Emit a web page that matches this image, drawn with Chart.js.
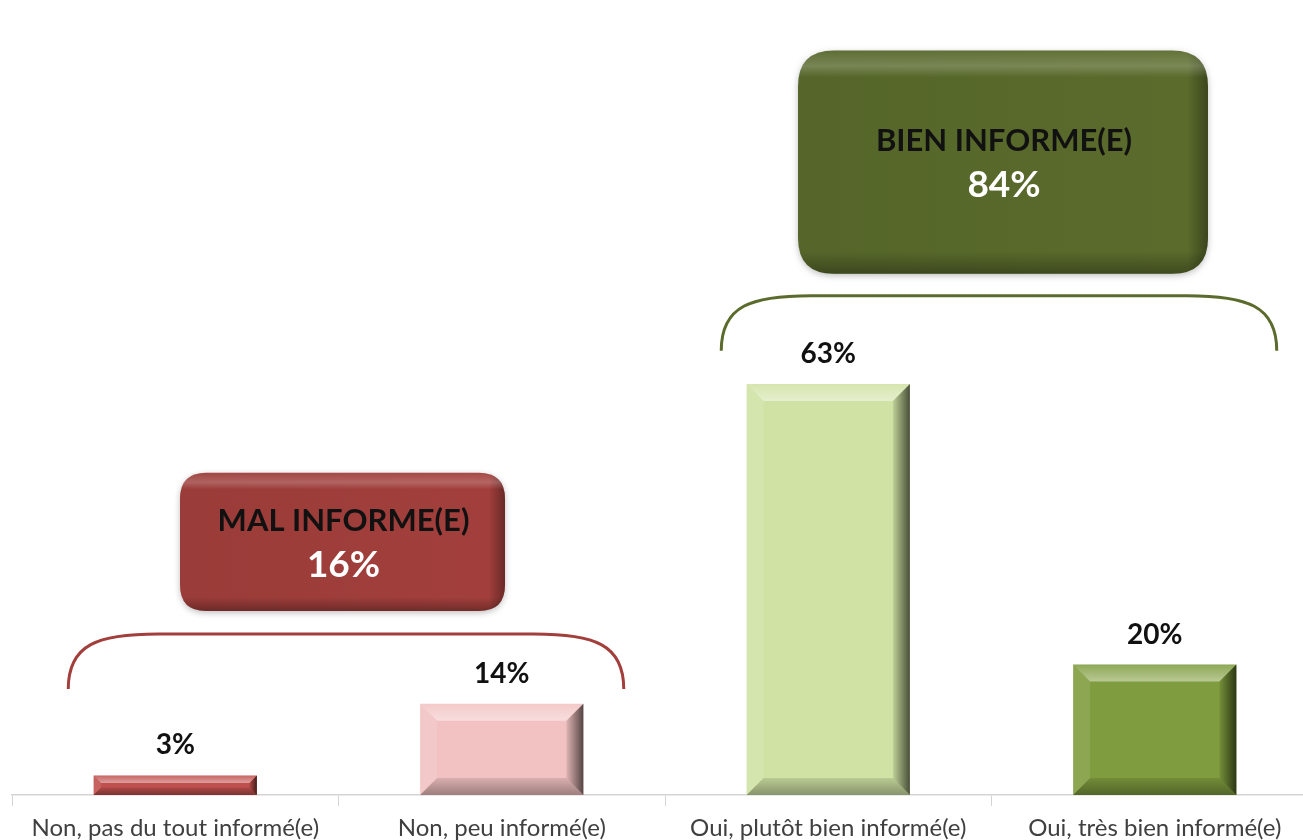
<!DOCTYPE html>
<html lang="fr">
<head>
  <meta charset="UTF-8" />
  <title>Informé(e)</title>
  <script src="https://cdn.jsdelivr.net/npm/chart.js"></script>
  <style>
    html, body { margin: 0; padding: 0; background: #ffffff; overflow: hidden; }
    .wrap { width: 1320px; height: 850px; }
  </style>
</head>
<body>
  <div class="wrap"><canvas id="chart" width="1320" height="850"></canvas></div>
  <script>
    // données
    const categories = [
      'Non, pas du tout informé(e)',
      'Non, peu informé(e)',
      'Oui, plutôt bien informé(e)',
      'Oui, très bien informé(e)'
    ];
    const values = [3, 14, 63, 20];
    const barColors = ['#c0504d', '#f2c2c2', '#d0e2a4', '#7f9c3e'];

    // regroupements
    const groupLabels = ['MAL INFORME(E)', 'BIEN INFORME(E)'];
    const groupTotals = [16, 84];
    const groupColors = ['#a23f3c', '#5a6b2c'];

    const FONT = 'Lato, "Open Sans", sans-serif';

    function roundRect(ctx, x, y, w, h, r) {
      ctx.beginPath();
      ctx.moveTo(x + r, y);
      ctx.lineTo(x + w - r, y);
      ctx.quadraticCurveTo(x + w, y, x + w, y + r);
      ctx.lineTo(x + w, y + h - r);
      ctx.quadraticCurveTo(x + w, y + h, x + w - r, y + h);
      ctx.lineTo(x + r, y + h);
      ctx.quadraticCurveTo(x, y + h, x, y + h - r);
      ctx.lineTo(x, y + r);
      ctx.quadraticCurveTo(x, y, x + r, y);
      ctx.closePath();
    }

    function poly(ctx, pts, fill) {
      ctx.beginPath();
      ctx.moveTo(pts[0][0], pts[0][1]);
      for (let i = 1; i < pts.length; i++) ctx.lineTo(pts[i][0], pts[i][1]);
      ctx.closePath();
      ctx.fillStyle = fill;
      ctx.fill();
    }

    // effet biseauté sur les barres + étiquettes de valeur
    const bevelPlugin = {
      id: 'bevel',
      afterDatasetsDraw(chart) {
        const ctx = chart.ctx;
        const meta = chart.getDatasetMeta(0);
        ctx.save();
        meta.data.forEach((bar, i) => {
          const x0 = bar.x - bar.width / 2, x1 = bar.x + bar.width / 2;
          const y0 = bar.y, y1 = bar.base;
          const b = Math.min(17, (y1 - y0) / 2.6);
          const gt = ctx.createLinearGradient(0, y0, 0, y0 + b);
          gt.addColorStop(0, 'rgba(255,255,255,0.12)');
          gt.addColorStop(1, 'rgba(255,255,255,0.45)');
          poly(ctx, [[x0, y0], [x1, y0], [x1 - b, y0 + b], [x0 + b, y0 + b]], gt);
          poly(ctx, [[x0, y0], [x0 + b, y0 + b], [x0 + b, y1 - b], [x0, y1]], 'rgba(255,255,255,0.1)');
          const g = ctx.createLinearGradient(x1 - b, 0, x1, 0);
          g.addColorStop(0, 'rgba(0,0,0,0.08)');
          g.addColorStop(1, 'rgba(0,0,0,0.65)');
          poly(ctx, [[x1, y0], [x1, y1], [x1 - b, y1 - b], [x1 - b, y0 + b]], g);
          const gb = ctx.createLinearGradient(0, y1 - b, 0, y1);
          gb.addColorStop(0, 'rgba(0,0,0,0.1)');
          gb.addColorStop(1, 'rgba(0,0,0,0.35)');
          poly(ctx, [[x0, y1], [x0 + b, y1 - b], [x1 - b, y1 - b], [x1, y1]], gb);

          ctx.fillStyle = '#111';
          ctx.font = 'bold 28px ' + FONT;
          ctx.textAlign = 'center';
          ctx.textBaseline = 'middle';
          ctx.fillText(values[i] + '%', bar.x, y0 - 30);
        });
        ctx.restore();
      }
    };

    // accolades et encadrés des regroupements
    const groupPlugin = {
      id: 'groups',
      afterDraw(chart) {
        const ctx = chart.ctx;
        const xs = chart.scales.x, ys = chart.scales.y;
        const groups = [
          { from: 0, to: 1, end: 16.25, top: 49.4, bottom: 28.2, left: 180, right: 505, r: 26 },
          { from: 2, to: 3, end: 68.1, top: 114.1, bottom: 79.9, left: 798, right: 1208, r: 36 }
        ];
        ctx.save();
        groups.forEach((gr, k) => {
          const lx = xs.getPixelForValue(gr.from) - 107;
          const rx = xs.getPixelForValue(gr.to) + 122;
          const ey = ys.getPixelForValue(gr.end);
          const ty = ey - 55;
          ctx.strokeStyle = groupColors[k];
          ctx.lineWidth = 3;
          ctx.beginPath();
          ctx.moveTo(lx, ey);
          ctx.bezierCurveTo(lx, ty + 10, lx + 30, ty, lx + 90, ty);
          ctx.lineTo(rx - 90, ty);
          ctx.bezierCurveTo(rx - 30, ty, rx, ty + 10, rx, ey);
          ctx.stroke();

          // boîte
          const bx = gr.left, bw = gr.right - gr.left;
          const by = ys.getPixelForValue(gr.top), bh = ys.getPixelForValue(gr.bottom) - by;
          ctx.save();
          ctx.shadowColor = 'rgba(0,0,0,0.25)';
          ctx.shadowBlur = 6;
          ctx.shadowOffsetY = 2;
          roundRect(ctx, bx, by, bw, bh, gr.r);
          ctx.fillStyle = groupColors[k];
          ctx.fill();
          ctx.restore();
          roundRect(ctx, bx, by, bw, bh, gr.r);
          const sh = ctx.createLinearGradient(bx, 0, bx + bw, 0);
          sh.addColorStop(0, 'rgba(0,0,0,0.05)');
          sh.addColorStop(0.95, 'rgba(0,0,0,0)');
          sh.addColorStop(1, 'rgba(0,0,0,0.35)');
          ctx.fillStyle = sh;
          ctx.fill();
          roundRect(ctx, bx, by, bw, bh, gr.r);
          const sv = ctx.createLinearGradient(0, by, 0, by + bh);
          sv.addColorStop(0, 'rgba(255,255,255,0.05)');
          sv.addColorStop(0.07, 'rgba(255,255,255,0.2)');
          sv.addColorStop(0.12, 'rgba(255,255,255,0)');
          sv.addColorStop(0.9, 'rgba(0,0,0,0)');
          sv.addColorStop(1, 'rgba(0,0,0,0.3)');
          ctx.fillStyle = sv;
          ctx.fill();

          const cx = bx + bw / 2, cy = by + bh / 2;
          ctx.textAlign = 'center';
          ctx.textBaseline = 'middle';
          ctx.fillStyle = '#111';
          ctx.font = 'bold 31px ' + FONT;
          ctx.fillText(groupLabels[k], cx + 1, cy - 21);
          ctx.fillStyle = '#ffffff';
          ctx.font = 'bold 37px ' + FONT;
          ctx.fillText(groupTotals[k] + '%', cx + 1, cy + 23);
        });
        ctx.restore();
      }
    };

    new Chart(document.getElementById('chart'), {
      type: 'bar',
      data: {
        labels: categories,
        datasets: [{
          data: values,
          backgroundColor: barColors,
          barPercentage: 0.5,
          categoryPercentage: 1
        }]
      },
      options: {
        responsive: false,
        animation: false,
        layout: { padding: { left: 12, right: 2, top: 12, bottom: 0 } },
        plugins: { legend: { display: false }, tooltip: { enabled: false } },
        scales: {
          x: {
            grid: { drawOnChartArea: false, tickLength: 11, color: '#d4d4d4', offset: true },
            border: { color: '#d4d4d4', width: 1.5 },
            ticks: { color: '#404040', font: { family: FONT, size: 24, lineHeight: 1 }, padding: 10, maxRotation: 0 }
          },
          y: { display: false, min: 0, max: 120 }
        }
      },
      plugins: [bevelPlugin, groupPlugin]
    });
  </script>
</body>
</html>
